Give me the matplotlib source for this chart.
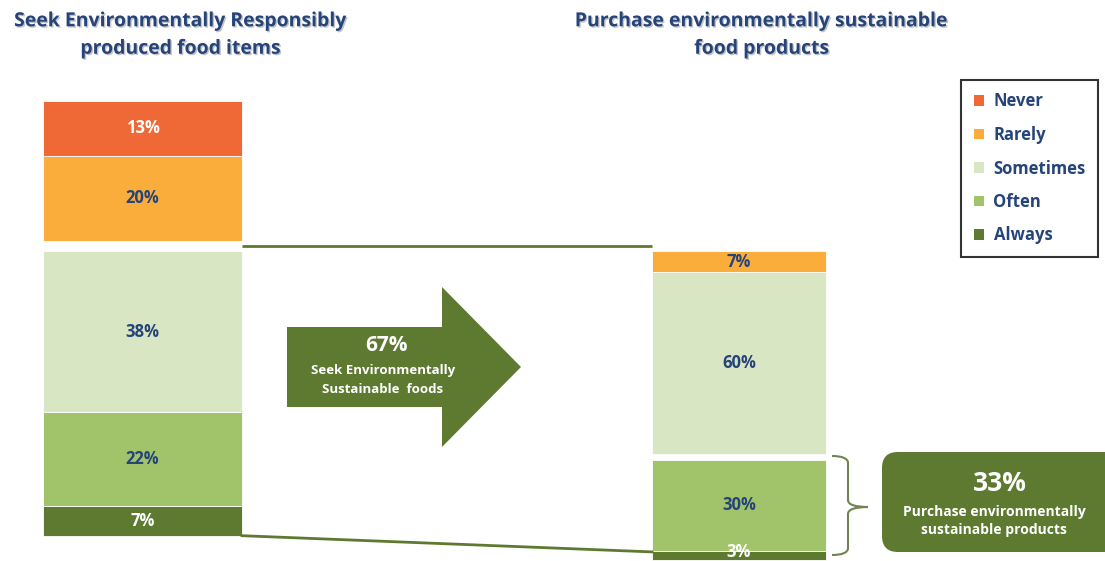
import matplotlib.pyplot as plt
import matplotlib.patheffects as pe
from matplotlib.patches import Polygon, FancyBboxPatch, Patch, PathPatch
from matplotlib.path import Path

plt.rcParams['font.family'] = ['Open Sans', 'DejaVu Sans']

# survey answers, bottom to top
categories = ['Always', 'Often', 'Sometimes', 'Rarely', 'Never']
seek = [7, 22, 38, 20, 13]
purchase = [3, 30, 60, 7, 0]
colors = ['#5E7A31', '#A1C46A', '#D9E6C4', '#FBAD3C', '#EE6936']
white_labels = ['Always', 'Never']

seek_title = 'Seek Environmentally Responsibly\nproduced food items'
purchase_title = 'Purchase environmentally sustainable\nfood products'
seek_share = '67%'
purchase_share = '33%'

navy = '#264479'
green = '#5E7A31'

fig = plt.figure(figsize=(11.05, 5.61), dpi=100)
ax = fig.add_axes([0, 0, 1, 1])
ax.set_xlim(0, 1105)
ax.set_ylim(561, 0)
ax.axis('off')


def stacked(x0, x1, base, scale, values, gap_after, gap):
    """Draw one stacked column growing upward from base; return segment spans."""
    spans = []
    y = base
    for i, (cat, v, c) in enumerate(zip(categories, values, colors)):
        if v == 0:
            continue
        h = v * scale
        top = y - h
        ax.bar((x0 + x1) / 2, h, bottom=top, width=x1 - x0, color=c,
               edgecolor='white', linewidth=0.6)
        # keep the label inside the figure for thin bottom segments
        ax.text((x0 + x1) / 2, min(top + h / 2, 552), f'{v}%', ha='center',
                va='center', fontsize=12, fontweight='bold',
                color='white' if cat in white_labels else navy)
        spans.append((top, y))
        y = top
        if i == gap_after:
            y -= gap
    return spans


left = stacked(43, 242, 535.7, 4.25, seek, 2, 10)
right = stacked(652, 826, 560, 3.03, purchase, 1, 6)

# connector lines between the two columns
gap_mid = left[2][0] - 5
ax.plot([242, 652], [gap_mid, gap_mid], color=green, lw=2, solid_capstyle='butt')
ax.plot([242, 652], [left[0][1], right[0][0] + 1], color=green, lw=2)

# titles
shadow = [pe.SimplePatchShadow(offset=(1, -1), alpha=0.25), pe.Normal()]
ax.text(181, 35, seek_title, ha='center', va='center', fontsize=14,
        fontweight='bold', color=navy, linespacing=1.5, path_effects=shadow)
ax.text(762, 35, purchase_title, ha='center', va='center', fontsize=14,
        fontweight='bold', color=navy, linespacing=1.5, path_effects=shadow)

# big arrow
arrow = Polygon([(287, 327), (442, 327), (442, 287), (521, 367),
                 (442, 447), (442, 407), (287, 407)], closed=True,
                facecolor=green, edgecolor='none')
ax.add_patch(arrow)
ax.text(386, 345, seek_share, ha='center', va='center', fontsize=15,
        fontweight='bold', color='white')
ax.text(383, 380, 'Seek Environmentally\nSustainable  foods', ha='center',
        va='center', fontsize=9.5, fontweight='bold', color='white',
        linespacing=1.6)

# brace next to the lower part of the right column
verts = [(832, 456), (848, 456), (848, 463), (848, 500), (848, 507), (868, 507),
         (848, 507), (848, 514), (848, 548), (848, 555), (832, 555)]
codes = [Path.MOVETO, Path.CURVE3, Path.CURVE3, Path.LINETO, Path.CURVE3,
         Path.CURVE3, Path.CURVE3, Path.CURVE3, Path.LINETO, Path.CURVE3,
         Path.CURVE3]
ax.add_patch(PathPatch(Path(verts, codes), facecolor='none',
                       edgecolor='#6F8450', lw=1.5))

# rounded callout
box = FancyBboxPatch((882, 452), 240, 100,
                     boxstyle='round,pad=0,rounding_size=16',
                     facecolor=green, edgecolor='none')
ax.add_patch(box)
ax.text(1000, 483, purchase_share, ha='center', va='center', fontsize=19,
        fontweight='bold', color='white')
ax.text(994, 521, 'Purchase environmentally\nsustainable products',
        ha='center', va='center', fontsize=10, fontweight='bold',
        color='white', linespacing=1.4)

# legend, Never on top
handles = [Patch(facecolor=c, edgecolor='none', label=cat)
           for cat, c in zip(categories[::-1], colors[::-1])]
leg = ax.legend(handles=handles, loc='upper left',
                bbox_to_anchor=(961 / 1105, 1 - 80 / 561),
                prop={'weight': 'bold', 'size': 12}, labelcolor=navy,
                handlelength=0.6, handleheight=0.6, handletextpad=0.6,
                labelspacing=0.93, borderpad=0.75, borderaxespad=0,
                fancybox=False, frameon=True)
leg.get_frame().set_edgecolor('black')
leg.get_frame().set_linewidth(1.5)

fig.savefig('out.png', dpi=100)
